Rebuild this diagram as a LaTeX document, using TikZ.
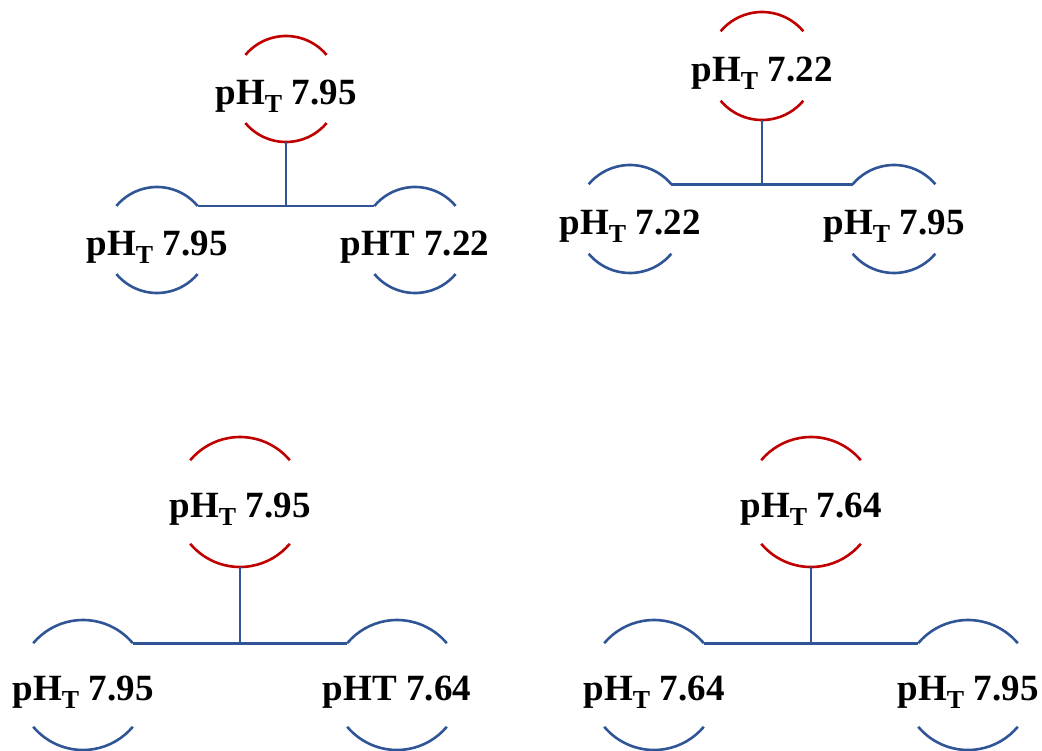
\documentclass[tikz,border=0pt]{standalone}
\usepackage{fontspec}
\setmainfont{Liberation Serif}
\definecolor{rootred}{RGB}{192,0,0}
\definecolor{leafblue}{RGB}{47,85,151}
\tikzset{
ion/.style={circle,minimum size=#1,inner sep=0pt,outer sep=0pt},
phlabel/.style={font=\fontsize{37}{40}\selectfont\bfseries,text depth=0pt,inner sep=0pt,yshift=-3pt}
}
\begin{document}
\begin{tikzpicture}[x=1pt,y=1pt,line width=2.6pt]
\useasboundingbox (0,0) rectangle (1042,-751);
\newcommand\phtree[7]{
\node[ion=2*#2,label={[phlabel]center:#5}] (#1r) at (0,0) {};
\node[ion=2*#2,label={[phlabel]center:#6}] (#1a) at (-#3,-#4) {};
\node[ion=2*#2,label={[phlabel]center:#7}] (#1b) at (#3,-#4) {};
\foreach \n/\c in {r/rootred,a/leafblue,b/leafblue} {
\draw[\c] (#1\n.40) arc[start angle=40,end angle=140,radius=#2];
\draw[\c] (#1\n.220) arc[start angle=220,end angle=320,radius=#2];
}
\draw[leafblue] (#1r.south) -- (#1r.south |- #1a.40);
\draw[leafblue] (#1a.40) -- (#1b.140);
}
\begin{scope}[xshift=286pt,yshift=-89pt]
\phtree{p}{53}{129}{151}{pH\textsubscript{T} 7.95}{pH\textsubscript{T} 7.95}{pHT 7.22}
\end{scope}
\begin{scope}[xshift=762pt,yshift=-66pt]
\phtree{q}{54}{132}{153}{pH\textsubscript{T} 7.22}{pH\textsubscript{T} 7.22}{pH\textsubscript{T} 7.95}
\end{scope}
\begin{scope}[xshift=240pt,yshift=-502pt]
\phtree{s}{65}{157}{183}{pH\textsubscript{T} 7.95}{pH\textsubscript{T} 7.95}{pHT 7.64}
\end{scope}
\begin{scope}[xshift=811pt,yshift=-502pt]
\phtree{t}{65}{157}{183}{pH\textsubscript{T} 7.64}{pH\textsubscript{T} 7.64}{pH\textsubscript{T} 7.95}
\end{scope}
\end{tikzpicture}
\end{document}
